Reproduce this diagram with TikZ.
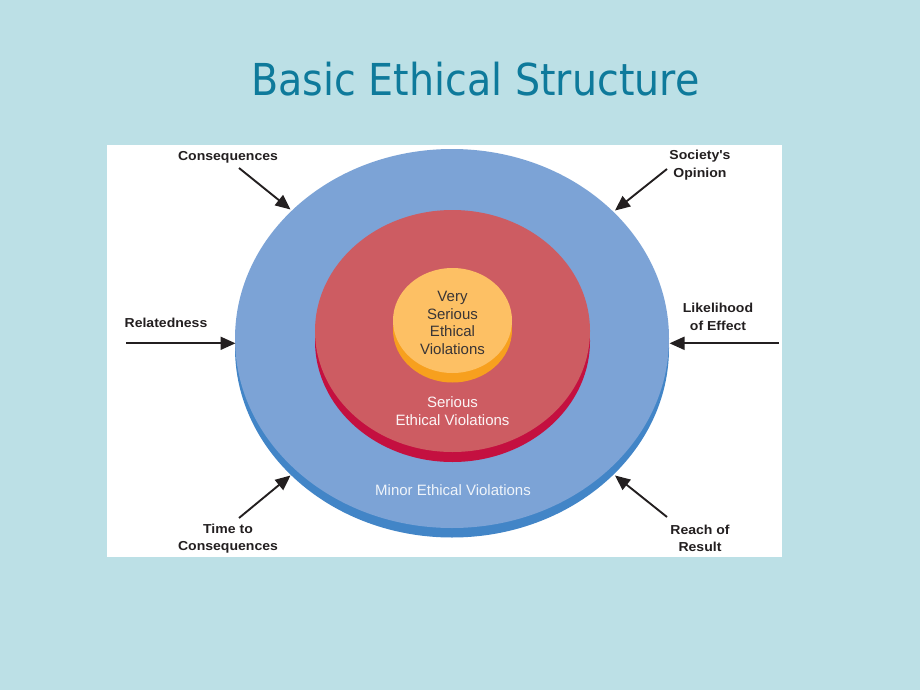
\documentclass[tikz,border=0pt]{standalone}
\usepackage{fontspec}
\setmainfont{Liberation Sans}
\newfontfamily\titlefont{DejaVu Sans}
\usetikzlibrary{arrows.meta}
\definecolor{bgblue}{RGB}{188,224,230}
\definecolor{titleteal}{RGB}{14,122,155}
\definecolor{blueface}{RGB}{124,163,214}
\definecolor{bluerim}{RGB}{66,133,199}
\definecolor{redface}{RGB}{205,92,98}
\definecolor{redrim}{RGB}{196,16,64}
\definecolor{orangeface}{RGB}{253,192,100}
\definecolor{orangerim}{RGB}{247,160,30}
\definecolor{inkdark}{RGB}{35,31,32}
\tikzset{
  lbl/.style={font=\fontsize{13}{17.5}\selectfont\bfseries, text=inkdark, align=center, inner sep=0pt, xscale=1.08},
  ring/.style={font=\fontsize{15}{17.5}\selectfont, align=center, inner sep=0pt},
  pusharrow/.style={draw=inkdark, line width=1.9pt, -{Triangle[length=15pt,width=13pt]}, shorten >=0pt}
}
\begin{document}
\begin{tikzpicture}[x=1pt,y=-1pt]
\useasboundingbox (0,0) rectangle (920,690);
\fill[bgblue] (0,0) rectangle (920,690);
\node[font=\titlefont\fontsize{44}{50}\selectfont, text=titleteal, xscale=0.90, anchor=base, inner sep=0pt] (title) at (475.5,96) {Basic Ethical Structure};
\fill[white] (107,145) rectangle (782,557);
% outer ring
\fill[bluerim] (452,348) ellipse [x radius=217, y radius=189.5];
\fill[blueface] (452,338.5) ellipse [x radius=217, y radius=189.5];
% middle ring
\fill[redrim] (452.5,341) ellipse [x radius=137.5, y radius=121];
\fill[redface] (452.5,331) ellipse [x radius=137.5, y radius=121];
% inner ring
\fill[orangerim] (452.5,330) ellipse [x radius=59.5, y radius=52.5];
\fill[orangeface] (452.5,320.5) ellipse [x radius=59.5, y radius=52.5];
% ring texts
\node[ring, text=inkdark!90] (vs) at (452.5,323) {Very\\Serious\\Ethical\\Violations};
\node[ring, text=white!94!redface] (se) at (452.5,411) {Serious\\Ethical Violations};
\node[ring, text=white!88!blueface] (mi) at (453,490) {Minor Ethical Violations};
% labels
\node[lbl] (conseq) at (228,157) {Consequences};
\node[lbl] (society) at (700,165) {Society\textquotesingle s\\Opinion};
\node[lbl] (relat) at (166,323) {Relatedness};
\node[lbl] (likeli) at (718,317) {Likelihood\\of Effect};
\node[lbl] (time) at (228,538.5) {Time to\\Consequences};
\node[lbl] (reach) at (700,538.5) {Reach of\\Result};
% arrow ends
\coordinate (cS) at (239,168);
\coordinate (cT) at (290.5,209.5);
\coordinate (sS) at (667,169);
\coordinate (sT) at (615,210.5);
\coordinate (rS) at (126,343.3);
\coordinate (rT) at (235.5,343.3);
\coordinate (lS) at (778.5,343.3);
\coordinate (lT) at (669.5,343.3);
\coordinate (tS) at (239,518);
\coordinate (tT) at (290.5,475.5);
\coordinate (qS) at (667,517);
\coordinate (qT) at (615,475.5);
\draw[pusharrow] (cS) -- (cT);
\draw[pusharrow] (sS) -- (sT);
\draw[pusharrow] (rS) -- (rT);
\draw[pusharrow] (lS) -- (lT);
\draw[pusharrow] (tS) -- (tT);
\draw[pusharrow] (qS) -- (qT);
\end{tikzpicture}
\end{document}
